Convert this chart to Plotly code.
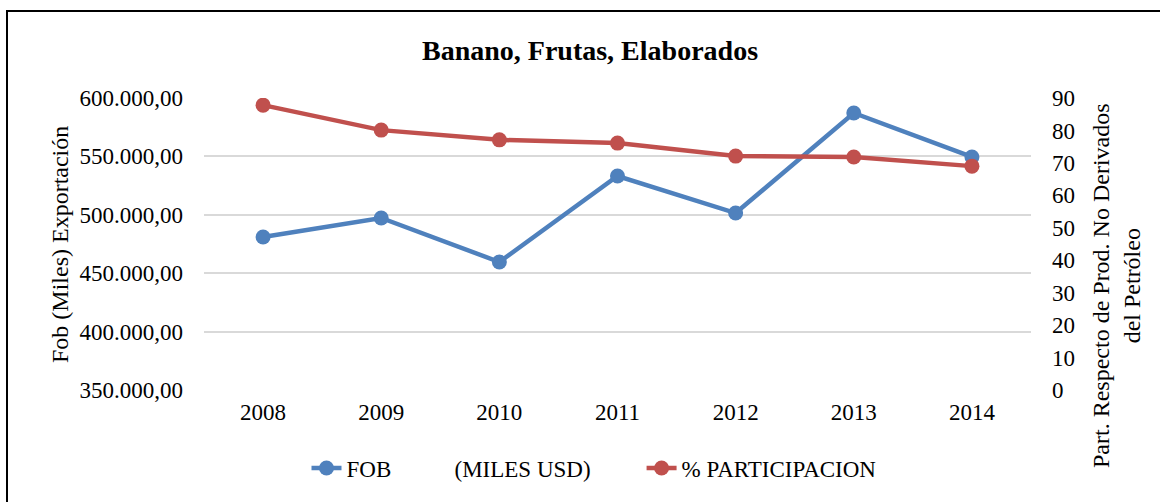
import plotly.graph_objects as go

years = ["2008", "2009", "2010", "2011", "2012", "2013", "2014"]
fob = [481000, 497300, 459600, 533200, 501500, 587200, 549500]
participacion = [87.8, 80.1, 77.1, 76.1, 72.1, 71.8, 69.0]

blue = "#4F81BD"
red = "#C0504D"
font = "Liberation Serif"
nb = "\u00a0"

fig = go.Figure()
fig.add_trace(go.Scatter(
    x=years, y=fob, name="FOB" + nb * 11 + "(MILES USD)" + nb * 8,
    mode="lines+markers", line=dict(color=blue, width=4.5),
    marker=dict(size=15, color=blue), yaxis="y"))
fig.add_trace(go.Scatter(
    x=years, y=participacion, name="% PARTICIPACION",
    mode="lines+markers", line=dict(color=red, width=4.5),
    marker=dict(size=15, color=red), yaxis="y2"))

L, R, T, B = 204, 129, 98, 112
W, H = 1160, 502
pw, ph = W - L - R, H - T - B

def px(x):
    return (x - L) / pw

def py(y):
    return (H - B - y) / ph

fs = 23
fig.update_layout(
    width=W, height=H,
    margin=dict(l=L, r=R, t=T, b=B),
    paper_bgcolor="white", plot_bgcolor="white",
    separators=",.",
    font=dict(family=font, size=fs, color="black"),
    title=dict(text="<b>Banano, Frutas, Elaborados</b>", x=px(590), xref="paper",
               xanchor="center", y=1 - 50 / H, yanchor="middle",
               font=dict(family=font, size=28, color="black")),
    xaxis=dict(type="category", range=[-0.5, len(years) - 0.5], showgrid=False,
               showline=False, zeroline=False,
               ticks="", ticklabelstandoff=6, tickfont=dict(family=font, size=fs)),
    yaxis=dict(range=[350000, 600000], dtick=50000, tickformat=",.2f",
               showgrid=True, gridcolor="#D9D9D9", gridwidth=1.5,
               zeroline=False, showline=False, ticks="", ticklabelstandoff=20,
               tickfont=dict(family=font, size=fs)),
    yaxis2=dict(range=[0, 90], dtick=10, overlaying="y", side="right",
                showgrid=False, zeroline=False, showline=False, ticks="",
                ticklabelstandoff=20, tickfont=dict(family=font, size=fs)),
    showlegend=True,
    legend=dict(orientation="h", x=px(594), xanchor="center", y=py(468), yanchor="middle",
                font=dict(family=font, size=fs), bgcolor="rgba(0,0,0,0)"),
)

fig.add_annotation(text="Fob (Miles) Exportación", textangle=-90, xref="paper", yref="paper",
                   x=px(60), y=py(245), xanchor="center", yanchor="middle", showarrow=False,
                   font=dict(family=font, size=24))
fig.add_annotation(text="Part. Respecto de Prod. No Derivados<br>del Petróleo", textangle=-90,
                   xref="paper", yref="paper", x=px(1116), y=py(286), xanchor="center",
                   yanchor="middle", showarrow=False, font=dict(family=font, size=24))

fig.add_shape(type="rect", xref="paper", yref="paper",
              x0=px(7), x1=px(1170), y0=py(11), y1=py(520),
              line=dict(color="black", width=2), fillcolor="rgba(0,0,0,0)", layer="above")

fig.write_html("out.html", config={"displayModeBar": False},
               post_script="document.body.style.margin='0';")
